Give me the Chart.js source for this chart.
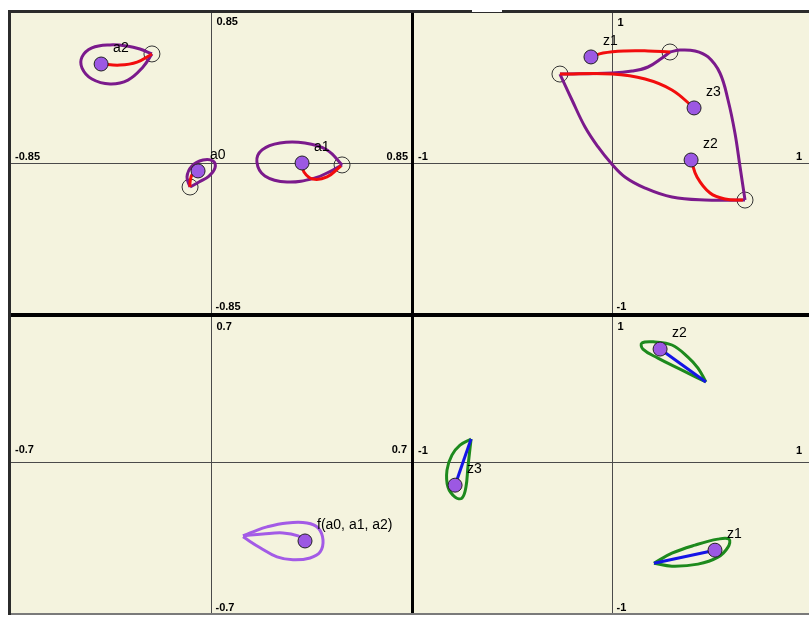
<!DOCTYPE html>
<html>
<head>
<meta charset="utf-8">
<script src="https://cdn.jsdelivr.net/npm/chart.js@4.4.1/dist/chart.umd.min.js"></script>
<style>
body{margin:0;background:#fff;width:809px;height:617px;overflow:hidden;position:relative}
#frame{position:absolute;left:8px;top:10px;width:801px;height:605px;background:#2b2b2b}
#notch{position:absolute;left:472px;top:10px;width:30px;height:2px;background:#fff}
#vdiv{position:absolute;left:411px;top:13px;width:3px;height:600px;background:#000}
#hdiv{position:absolute;left:11px;top:313px;width:798px;height:4px;background:#000}
#bline{position:absolute;left:11px;top:613px;width:798px;height:2px;background:#7a7a7a}
canvas{position:absolute;background:#f4f3de}
</style>
</head>
<body>
<div id="frame"></div>
<div id="notch"></div>
<div id="vdiv"></div>
<div id="hdiv"></div>
<div id="bline"></div>
<canvas id="p1" width="400" height="300" style="left:11px;top:13px"></canvas>
<canvas id="p2" width="395" height="300" style="left:414px;top:13px"></canvas>
<canvas id="p3" width="400" height="296" style="left:11px;top:317px"></canvas>
<canvas id="p4" width="395" height="296" style="left:414px;top:317px"></canvas>
<script>

// tick labels: left, right, bottom, top
let aTicks = ["-0.85","0.85","-0.85","0.85"]
let zTicks = ["-1","1","-1","1"]
let fTicks = ["-0.7","0.7","-0.7","0.7"]

// top left: coefficients a0, a1, a2
let aNames = ["a0","a1","a2"]
let aDots = [[-0.055,-0.045],[0.387,0],[-0.467,0.561]]
let aStarts = [[-0.089,-0.136],[0.557,-0.011],[-0.251,0.618]]
let a0Path = [[-0.055,-0.045],[-0.081,-0.068],[-0.089,-0.108],[-0.089,-0.136]]
let a1Path = [[0.387,0],[0.395,-0.051],[0.433,-0.091],[0.493,-0.079],[0.552,-0.017]]
let a2Path = [[-0.467,0.561],[-0.387,0.555],[-0.314,0.572],[-0.251,0.618]]
let a0Loop = [[-0.089,-0.136],[-0.102,-0.079],[-0.081,-0.017],[-0.034,0.017],[0.0085,0.011],[0.017,-0.028],[-0.0085,-0.074],[-0.051,-0.108],[-0.089,-0.136]]
let a1Loop = [[0.557,-0.011],[0.493,0.074],[0.399,0.113],[0.293,0.113],[0.217,0.074],[0.195,0.006],[0.229,-0.074],[0.323,-0.108],[0.442,-0.085],[0.518,-0.040],[0.557,-0.011]]
let a2Loop = [[-0.251,0.618],[-0.302,0.646],[-0.357,0.663],[-0.429,0.669],[-0.506,0.652],[-0.548,0.601],[-0.548,0.538],[-0.506,0.476],[-0.429,0.448],[-0.353,0.470],[-0.289,0.544],[-0.251,0.618]]

// top right: roots z1, z2, z3
let zNames = ["z1","z2","z3"]
let zDots = [[-0.104,0.707],[0.403,0.020],[0.418,0.367]]
let zStarts = [[0.296,0.740],[0.676,-0.247],[-0.261,0.593]]
let z1Path = [[-0.104,0.707],[-0.043,0.733],[0.068,0.747],[0.185,0.747],[0.296,0.740]]
let z2Path = [[0.403,0.020],[0.433,-0.093],[0.499,-0.200],[0.575,-0.240],[0.666,-0.247]]
let z3Path = [[-0.261,0.593],[0.003,0.593],[0.170,0.560],[0.306,0.487],[0.418,0.367]]
let zLoopBC = [[-0.261,0.593],[-0.200,0.420],[-0.134,0.240],[-0.068,0.107],[-0.003,0],[0.068,-0.093],[0.170,-0.167],[0.306,-0.227],[0.473,-0.247],[0.676,-0.247]]
let zLoopCA = [[0.676,-0.247],[0.651,-0.027],[0.625,0.200],[0.590,0.420],[0.549,0.600],[0.489,0.707],[0.423,0.747],[0.347,0.753],[0.296,0.740]]
let zLoopAB = [[0.296,0.740],[0.256,0.700],[0.185,0.640],[0.104,0.613],[0.003,0.600],[-0.261,0.593]]

// bottom left: f(a0, a1, a2)
let fNames = ["f(a0, a1, a2)"]
let fDots = [[0.329,-0.382]]
let fLoop = [[0.112,-0.357],[0.147,-0.338],[0.196,-0.314],[0.266,-0.295],[0.336,-0.295],[0.375,-0.319],[0.392,-0.377],[0.382,-0.435],[0.347,-0.464],[0.287,-0.473],[0.231,-0.459],[0.172,-0.415],[0.112,-0.362]]
let fInner = [[0.112,-0.357],[0.182,-0.348],[0.252,-0.343],[0.305,-0.357],[0.329,-0.382]]

// bottom right: roots seen from f
let wNames = ["z1","z2","z3"]
let wDots = [[0.524,-0.607],[0.246,0.779],[-0.792,-0.159]]
let w1Path = [[0.524,-0.607],[0.215,-0.697]]
let w2Path = [[0.246,0.779],[0.478,0.552]]
let w3Path = [[-0.792,-0.159],[-0.711,0.159]]
let w1Loop = [[0.215,-0.697],[0.306,-0.628],[0.423,-0.572],[0.539,-0.531],[0.595,-0.531],[0.590,-0.586],[0.539,-0.655],[0.438,-0.703],[0.306,-0.717],[0.215,-0.697]]
let w2Loop = [[0.478,0.552],[0.438,0.648],[0.387,0.724],[0.306,0.807],[0.220,0.828],[0.154,0.821],[0.159,0.779],[0.235,0.717],[0.357,0.634],[0.478,0.552]]
let w3Loop = [[-0.711,0.159],[-0.767,0.117],[-0.808,0.048],[-0.833,-0.055],[-0.828,-0.172],[-0.792,-0.241],[-0.757,-0.248],[-0.737,-0.172],[-0.727,-0.034],[-0.711,0.159]]

const PURPLE = "#7b1a8c"
const RED = "#f20d0d"
const GREEN = "#1d8a1d"
const BLUE = "#1515e6"
const LILAC = "#a35be6"
const DOT = "#9c58e3"

function pts(arr){
return arr.map(p => ({x:p[0], y:p[1]}))
}

function curve(arr, color){
return {data:pts(arr), showLine:true, borderColor:color, borderWidth:3, tension:0.4, pointRadius:0, fill:false}
}

function dots(arr){
return {data:pts(arr), showLine:false, pointRadius:7, backgroundColor:DOT, borderColor:"#222", borderWidth:1}
}

function rings(arr){
return {data:pts(arr), showLine:false, pointRadius:8, backgroundColor:"rgba(0,0,0,0)", borderColor:"#333", borderWidth:1}
}

function makePanel(id, xr, yr, ticks, pos, names, namePts, datasets){

let plane = {
id:"plane",
beforeDatasetsDraw(chart){
let ctx = chart.ctx
let a = chart.chartArea
let x0 = Math.round(chart.scales.x.getPixelForValue(0)) + 0.5
let y0 = Math.round(chart.scales.y.getPixelForValue(0)) + 0.5
ctx.save()
ctx.strokeStyle = "#4a4a4a"
ctx.lineWidth = 1
ctx.beginPath()
ctx.moveTo(x0, a.top); ctx.lineTo(x0, a.bottom)
ctx.moveTo(a.left, y0); ctx.lineTo(a.right, y0)
ctx.stroke()
ctx.fillStyle = "#000"
ctx.font = 'bold 11px "Liberation Sans", Arial, sans-serif'
ctx.textBaseline = "middle"
ctx.textAlign = "left"
ctx.fillText(ticks[0], a.left + 4, y0 + pos.side)
ctx.fillText(ticks[2], x0 + 4, a.bottom - pos.bottom)
ctx.fillText(ticks[3], x0 + 5, a.top + pos.top)
ctx.textAlign = "right"
ctx.fillText(ticks[1], a.right - pos.right, y0 + pos.side)
ctx.restore()
},
afterDatasetsDraw(chart){
let ctx = chart.ctx
ctx.save()
ctx.fillStyle = "#000"
ctx.font = '14px "Liberation Sans", Arial, sans-serif'
ctx.textBaseline = "middle"
ctx.textAlign = "left"
names.forEach((n,i) => {
let px = chart.scales.x.getPixelForValue(namePts[i][0])
let py = chart.scales.y.getPixelForValue(namePts[i][1])
ctx.fillText(n, px + 12, py - 16)
})
ctx.restore()
}
}

new Chart(document.getElementById(id), {
type:"scatter",
data:{datasets:datasets},
options:{
responsive:false,
animation:false,
layout:{padding:0, autoPadding:false},
plugins:{legend:{display:false}, tooltip:{enabled:false}},
scales:{
x:{type:"linear", min:xr[0], max:xr[1], display:false},
y:{type:"linear", min:yr[0], max:yr[1], display:false}
}
},
plugins:[plane]
})

}

makePanel("p1", [-0.85,0.85], [-0.85,0.85], aTicks, {side:-7, right:3, top:9, bottom:6}, aNames, aDots, [
dots(aDots),
curve(a0Path, RED), curve(a1Path, RED), curve(a2Path, RED),
curve(a0Loop, PURPLE), curve(a1Loop, PURPLE), curve(a2Loop, PURPLE),
rings(aStarts)
])

makePanel("p2", [-1,1], [-1,1], zTicks, {side:-7, right:7, top:10, bottom:6}, zNames, zDots, [
dots(zDots),
curve(z1Path, RED), curve(z2Path, RED), curve(z3Path, RED),
curve(zLoopBC, PURPLE), curve(zLoopCA, PURPLE), curve(zLoopAB, PURPLE),
rings(zStarts)
])

makePanel("p3", [-0.7,0.7], [-0.73,0.7], fTicks, {side:-13, right:4, top:10, bottom:5}, fNames, fDots, [
dots(fDots),
curve(fInner, LILAC), curve(fLoop, LILAC)
])

makePanel("p4", [-1,1], [-1.04,1], zTicks, {side:-12, right:7, top:10, bottom:5}, wNames, wDots, [
dots(wDots),
curve(w1Path, BLUE), curve(w2Path, BLUE), curve(w3Path, BLUE),
curve(w1Loop, GREEN), curve(w2Loop, GREEN), curve(w3Loop, GREEN)
])

</script>
</body>
</html>
